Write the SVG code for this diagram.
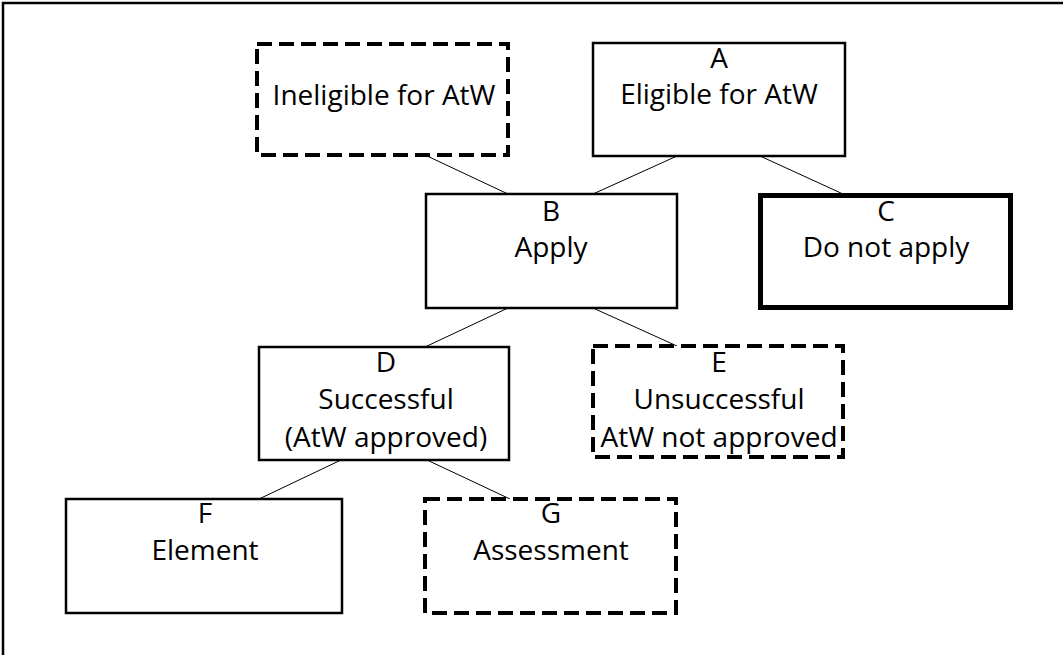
<svg xmlns="http://www.w3.org/2000/svg" width="1063" height="655" viewBox="0 0 1063 655">
<style>
.box{fill:#fff;stroke:#000;stroke-width:2.5}
.dash{fill:#fff;stroke:#000;stroke-width:4;stroke-dasharray:15 7}
.thick{fill:#fff;stroke:#000;stroke-width:5}
.conn{stroke:#000;stroke-width:1;fill:none}
text{font-family:"Open Sans","Liberation Sans",sans-serif;font-size:28px;fill:#000;text-anchor:middle}
</style>
<rect x="0" y="0" width="1063" height="655" fill="#fff"/>
<rect id="frame" x="3" y="3" width="1080" height="680" fill="none" stroke="#000" stroke-width="2.5"/>
<g id="connectors">
<line class="conn" x1="425" y1="155" x2="508" y2="194"/>
<line class="conn" x1="677" y1="156" x2="593" y2="194"/>
<line class="conn" x1="760" y1="156" x2="843" y2="194"/>
<line class="conn" x1="508" y1="308" x2="425" y2="347"/>
<line class="conn" x1="593" y1="308" x2="677" y2="346"/>
<line class="conn" x1="341" y1="460" x2="259" y2="499"/>
<line class="conn" x1="427" y1="460" x2="510" y2="499"/>
</g>
<g id="node-ineligible">
<rect class="dash" x="257" y="44" width="251" height="111"/>
<text x="384" y="105">Ineligible for AtW</text>
</g>
<g id="node-A">
<rect class="box" x="593" y="43" width="252" height="113"/>
<text x="719" y="68">A</text>
<text x="719" y="104">Eligible for AtW</text>
</g>
<g id="node-B">
<rect class="box" x="426" y="194" width="251" height="114"/>
<text x="551" y="221">B</text>
<text x="551" y="257">Apply</text>
</g>
<g id="node-C">
<rect class="thick" x="760.5" y="195.5" width="250" height="112"/>
<text x="886" y="221">C</text>
<text x="886" y="257">Do not apply</text>
</g>
<g id="node-D">
<rect class="box" x="259" y="347" width="250" height="113"/>
<text x="386" y="372">D</text>
<text x="386" y="409">Successful</text>
<text x="386" y="447">(AtW approved)</text>
</g>
<g id="node-E">
<rect class="dash" x="593" y="346" width="250" height="111"/>
<text x="719" y="372">E</text>
<text x="719" y="409">Unsuccessful</text>
<text x="719" y="447">AtW not approved</text>
</g>
<g id="node-F">
<rect class="box" x="66" y="499" width="276" height="114"/>
<text x="205" y="523">F</text>
<text x="205" y="560">Element</text>
</g>
<g id="node-G">
<rect class="dash" x="425" y="499" width="251" height="114"/>
<text x="551" y="523">G</text>
<text x="551" y="560">Assessment</text>
</g>
</svg>
